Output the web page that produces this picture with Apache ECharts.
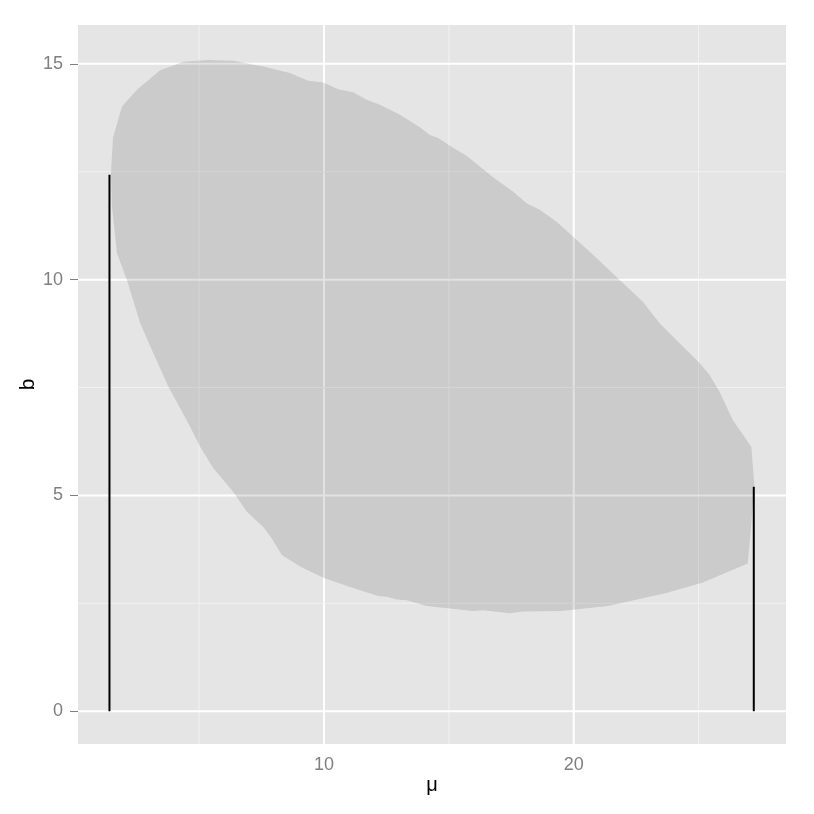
<!DOCTYPE html>
<html>
<head>
<meta charset="utf-8">
<script src="https://cdn.jsdelivr.net/npm/echarts@6/dist/echarts.min.js"></script>
<style>html,body{margin:0;padding:0;background:#fff}#c{width:814px;height:814px}</style>
</head>
<body>
<div id="c"></div>
<script>
// Axis ticks
const xMajor = [10, 20];
const xMinor = [5, 15, 25];
const yMajor = [0, 5, 10, 15];
const yMinor = [2.5, 7.5, 12.5];
const xRange = [0.15, 28.5];
const yRange = [-0.76, 15.9];

// Region outline (mu, b)
const regionMu = [1.47, 1.55, 1.91, 2.51, 3.44, 4.37, 5.37, 6.37, 7.57, 8.64, 9.37, 9.97, 10.57, 11.17, 11.71,
  12.24, 13.04, 13.84, 14.24, 14.57, 15.04, 15.71, 16.24, 16.77, 17.57, 18.11, 18.64, 19.31, 19.97, 20.91,
  21.84, 22.77, 23.44, 24.11, 25.04, 25.44, 25.84, 26.37, 27.11, 27.24, 26.97, 25.17, 23.71, 21.37, 19.51,
  17.97, 17.44, 16.37, 15.97, 15.04, 14.11, 13.31, 12.91, 12.51, 12.17, 11.04, 9.97, 9.04, 8.31, 7.91,
  7.57, 6.91, 6.37, 5.57, 5.04, 4.64, 4.24, 3.77, 3.17, 2.64, 2.11, 1.71, 1.51];
const regionB = [12.47, 13.28, 14.01, 14.40, 14.85, 15.05, 15.09, 15.07, 14.94, 14.79, 14.61, 14.57, 14.41, 14.34, 14.17,
  14.05, 13.82, 13.53, 13.35, 13.28, 13.10, 12.87, 12.62, 12.37, 12.04, 11.77, 11.62, 11.34, 11.00, 10.50,
  9.99, 9.49, 8.99, 8.60, 8.07, 7.79, 7.40, 6.75, 6.13, 5.20, 3.42, 2.98, 2.74, 2.44, 2.32,
  2.31, 2.27, 2.34, 2.32, 2.38, 2.44, 2.57, 2.59, 2.65, 2.67, 2.88, 3.09, 3.35, 3.62, 4.00,
  4.27, 4.62, 5.08, 5.63, 6.13, 6.59, 7.02, 7.52, 8.29, 8.99, 9.99, 10.61, 11.69];

// Vertical segments
const segMu = [1.41, 27.21];
const segLow = [0, 0];
const segHigh = [12.43, 5.20];

const gridData = [];
xMajor.forEach(v => gridData.push([0, v, 1]));
xMinor.forEach(v => gridData.push([0, v, 0]));
yMajor.forEach(v => gridData.push([1, v, 1]));
yMinor.forEach(v => gridData.push([1, v, 0]));

const chart = echarts.init(document.getElementById('c'), null, {renderer: 'canvas'});
const FONT = 'Liberation Sans, Arial, sans-serif';
const labelFont = {color: '#7f7f7f', fontSize: 18, fontFamily: FONT};

chart.setOption({
  animation: false,
  backgroundColor: '#ffffff',
  grid: {left: 78, right: 28, top: 25, bottom: 70, show: true, backgroundColor: '#e5e5e5', borderWidth: 0},
  xAxis: {
    type: 'value', min: xRange[0], max: xRange[1],
    axisLine: {show: false},
    splitLine: {show: false},
    axisTick: {show: true, customValues: xMajor, length: 7, lineStyle: {color: '#7f7f7f', width: 1}},
    axisLabel: Object.assign({customValues: xMajor, margin: 12}, labelFont),
    name: 'μ', nameLocation: 'middle', nameGap: 31, nameMoveOverlap: false,
    nameTextStyle: {color: '#000', fontSize: 20, fontFamily: FONT}
  },
  yAxis: {
    type: 'value', min: yRange[0], max: yRange[1],
    axisLine: {show: false},
    splitLine: {show: false},
    axisTick: {show: true, customValues: yMajor, length: 8, lineStyle: {color: '#7f7f7f', width: 1}},
    axisLabel: Object.assign({customValues: yMajor, margin: 15}, labelFont),
    name: 'b', nameLocation: 'middle', nameGap: 39, nameRotate: 90, nameMoveOverlap: false,
    nameTextStyle: {color: '#000', fontSize: 21, fontFamily: FONT}
  },
  series: [
    {
      type: 'custom', silent: true, z: 1,
      data: gridData,
      renderItem: function (params, api) {
        const o = api.value(0), v = api.value(1), major = api.value(2);
        let p1, p2;
        if (o === 0) { p1 = api.coord([v, yRange[0]]); p2 = api.coord([v, yRange[1]]); }
        else { p1 = api.coord([xRange[0], v]); p2 = api.coord([xRange[1], v]); }
        return {type: 'line', shape: {x1: p1[0], y1: p1[1], x2: p2[0], y2: p2[1]},
          style: {stroke: major ? '#ffffff' : '#f2f2f2', lineWidth: major ? 2 : 1}};
      },
      encode: {x: 1, y: 1}
    },
    {
      type: 'custom', silent: true, z: 2,
      data: regionMu.map((m, i) => [m, regionB[i]]),
      renderItem: function (params, api) {
        if (params.dataIndex !== 0) return null;
        const pts = regionMu.map((m, i) => api.coord([m, regionB[i]]));
        return {type: 'polygon', shape: {points: pts}, style: {fill: 'rgba(0,0,0,0.113)'}};
      }
    },
    {
      type: 'line', z: 3, symbol: 'none', silent: true,
      data: [[segMu[0], segLow[0]], [segMu[0], segHigh[0]]],
      lineStyle: {color: '#000', width: 2}
    },
    {
      type: 'line', z: 3, symbol: 'none', silent: true,
      data: [[segMu[1], segLow[1]], [segMu[1], segHigh[1]]],
      lineStyle: {color: '#000', width: 2}
    }
  ]
});
</script>
</body>
</html>
